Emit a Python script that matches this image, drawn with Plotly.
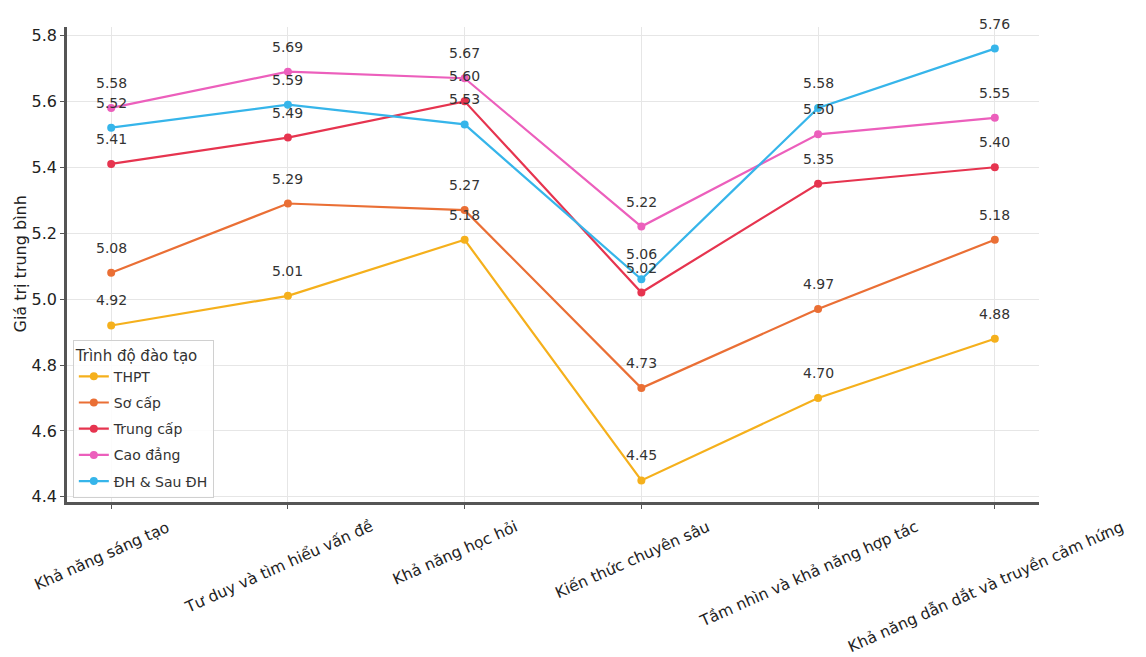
import plotly.graph_objects as go

categories = ["Khả năng sáng tạo", "Tư duy và tìm hiểu vấn đề", "Khả năng học hỏi",
              "Kiến thức chuyên sâu", "Tầm nhìn và khả năng hợp tác",
              "Khả năng dẫn dắt và truyền cảm hứng"]
series_names = ["THPT", "Sơ cấp", "Trung cấp", "Cao đẳng", "ĐH & Sau ĐH"]
thpt = [4.92, 5.01, 5.18, 4.45, 4.70, 4.88]
so_cap = [5.08, 5.29, 5.27, 4.73, 4.97, 5.18]
trung_cap = [5.41, 5.49, 5.60, 5.02, 5.35, 5.40]
cao_dang = [5.58, 5.69, 5.67, 5.22, 5.50, 5.55]
dh_sau_dh = [5.52, 5.59, 5.53, 5.06, 5.58, 5.76]
y_ticks = [4.4, 4.6, 4.8, 5.0, 5.2, 5.4, 5.6, 5.8]
y_title = "Giá trị trung bình"

series_values = [thpt, so_cap, trung_cap, cao_dang, dh_sau_dh]
colors = ["#F5B01C", "#EA6F35", "#E6344F", "#EC5FBC", "#36B5EA"]

FONT = "DejaVu Sans"
x_idx = list(range(len(categories)))

fig = go.Figure()
annotations = []
for name, vals, col in zip(series_names, series_values, colors):
    fig.add_trace(go.Scatter(
        x=x_idx, y=vals, mode="lines+markers", name=name,
        legendgroup=name,
        line=dict(color=col, width=2.2),
        marker=dict(color=col, size=8),
    ))
    for xi, v in zip(x_idx, vals):
        annotations.append(dict(
            x=xi, y=v, xref="x", yref="y", text=f"{v:.2f}", showarrow=False,
            yshift=25, font=dict(family=FONT, size=14, color="#333333"),
        ))

for xi, cat in zip(x_idx, categories):
    annotations.append(dict(
        x=xi, y=0, xref="x", yref="paper", text=cat, showarrow=False,
        textangle=-24, xanchor="center", yanchor="top", yshift=-13, xshift=-9,
        font=dict(family=FONT, size=15.5, color="#222222"),
    ))

annotations.append(dict(
    x=0, y=0.5, xref="paper", yref="paper", text=y_title, showarrow=False,
    textangle=-90, xanchor="center", yanchor="middle", xshift=-47,
    font=dict(family=FONT, size=16, color="#222222"),
))

ymin, ymax = min(min(s) for s in series_values), max(max(s) for s in series_values)
pad = 0.05 * (ymax - ymin)

fig.update_layout(
    width=1146, height=657,
    margin=dict(l=67, r=107, t=27, b=155),
    paper_bgcolor="white", plot_bgcolor="white",
    font=dict(family=FONT, size=15, color="#222222"),
    annotations=annotations,
    legend=dict(
        title=dict(text="Trình độ đào tạo", font=dict(family=FONT, size=15, color="#333333")),
        x=0.006, y=0.008, xanchor="left", yanchor="bottom",
        bgcolor="rgba(255,255,255,0.85)", bordercolor="#d0d0d0", borderwidth=1,
        font=dict(family=FONT, size=14, color="#333333"),
        tracegroupgap=5, traceorder="grouped",
    ),
    xaxis=dict(
        range=[-0.25, len(categories) - 0.75],
        tickvals=x_idx, showticklabels=False,
        showgrid=True, gridcolor="#e6e6e6", gridwidth=1,
        showline=True, linecolor="#555555", linewidth=2.5,
        ticks="outside", ticklen=4, tickcolor="#555555",
        zeroline=False,
    ),
    yaxis=dict(
        range=[ymin - pad, ymax + pad],
        tickvals=y_ticks, ticktext=[f"{t:.1f}" for t in y_ticks],
        showgrid=True, gridcolor="#e6e6e6", gridwidth=1,
        showline=True, linecolor="#555555", linewidth=2.5,
        ticks="outside", ticklen=4, tickcolor="#555555",
        tickfont=dict(family=FONT, size=16, color="#222222"),
        zeroline=False,
    ),
)

fig.write_html("out.html")
